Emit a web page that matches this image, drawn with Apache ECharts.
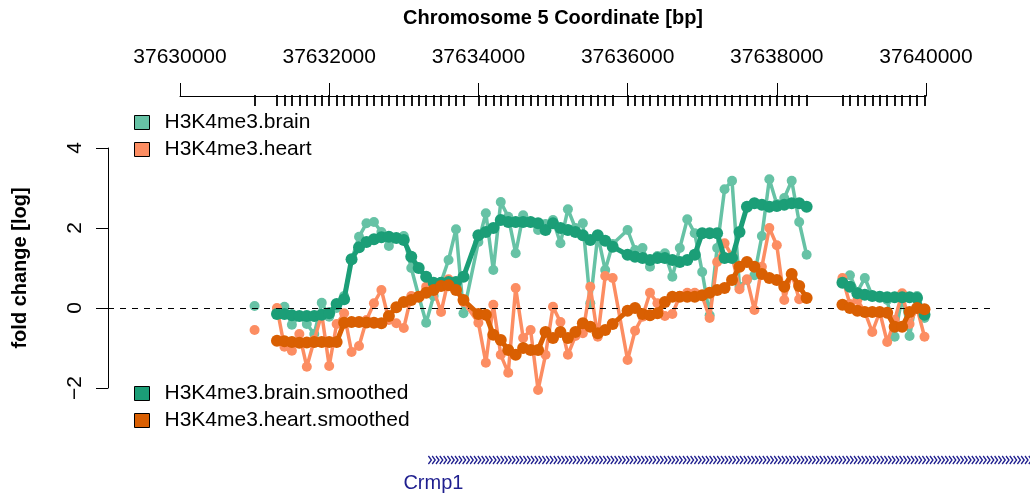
<!DOCTYPE html>
<html>
<head>
<meta charset="utf-8">
<script src="https://cdn.jsdelivr.net/npm/echarts@6/dist/echarts.min.js"></script>
<style>
  html, body { margin: 0; padding: 0; background: #fff; }
  #chart { width: 1030px; height: 494px; }
</style>
</head>
<body>
<div id="chart"></div>
<script>
// probe coordinates (bp)
var isoPos = 37631000;
var seg1Pos = [
  37631300,37631400,37631500,37631600,37631700,37631800,37631900,37632000,37632100,37632200,
  37632300,37632400,37632500,37632600,37632700,37632800,37632900,37633000,37633100,37633200,
  37633300,37633400,37633500,37633600,37633700,37633800,
  37634000,37634100,37634200,37634300,37634400,37634500,37634600,37634700,37634800,37634900,
  37635000,37635100,37635200,37635300,37635400,37635500,37635600,37635700,37635800,
  37636000,37636100,37636200,37636300,37636400,37636500,37636600,37636700,37636800,37636900,
  37637000,37637100,37637200,37637300,37637400,37637500,37637600,37637700,37637800,37637900,
  37638000,37638100,37638200,37638300,37638400
];
var seg2Pos = [37638880,37638980,37639080,37639180,37639280,37639380,37639480,37639580,37639680,37639780,37639880,37639980];

// fold change values
var brainIso = 0.05, heartIso = -0.55;
var brainRaw1 = [
  -0.1,0.03,-0.42,-0.2,-0.4,-0.65,0.13,-0.22,0.0,0.3,
  1.2,1.78,2.12,2.15,1.9,1.55,1.75,1.8,1.0,0.3,
  -0.37,0.3,0.65,1.2,1.97,-0.13,
  1.65,2.37,0.95,2.65,2.28,1.37,2.32,2.15,1.95,2.1,
  2.2,1.62,2.47,2.0,2.12,0.12,1.82,0.95,1.6,
  1.95,1.45,1.5,1.03,1.3,1.37,0.78,1.5,2.22,1.87,
  0.9,-0.18,1.5,2.97,3.18,0.53,0.7,0.82,1.8,3.22,
  2.6,2.75,3.18,2.15,1.33
];
var brainRaw2 = [0.7,0.82,0.4,0.75,0.3,0.28,0.2,-0.72,0.27,-0.7,0.3,-0.25];
var heartRaw1 = [
  0.0,-0.97,-1.07,-0.65,-1.47,-0.8,-0.15,-1.45,-0.4,-0.13,
  -1.1,-0.95,-0.3,0.12,0.45,-0.3,-0.38,-0.5,0.3,0.3,
  0.53,0.45,-0.1,0.72,0.45,0.15,
  -0.37,-1.37,0.08,-1.17,-1.62,0.5,-0.75,-0.55,-2.05,-1.17,
  0.03,-0.35,-1.17,-0.7,-0.63,0.53,-0.72,0.8,0.75,
  -1.3,-0.57,-0.22,0.38,0.12,-0.2,-0.15,0.3,0.38,0.38,
  0.3,-0.25,1.15,1.62,1.3,0.47,0.72,-0.05,1.03,2.0,
  1.57,0.2,0.87,0.22,0.25
];
var heartRaw2 = [0.75,0.1,0.2,-0.1,-0.6,-0.1,-0.85,-0.3,0.37,-0.4,0.0,-0.72];
var brainSm1 = [
  -0.15,-0.15,-0.18,-0.2,-0.2,-0.2,-0.17,-0.13,0.1,0.22,
  1.22,1.52,1.65,1.72,1.77,1.78,1.75,1.7,1.28,1.0,
  0.78,0.63,0.63,0.65,0.65,0.78,
  1.82,1.9,2.0,2.2,2.15,2.15,2.15,2.15,2.12,1.95,
  2.12,2.0,1.95,1.9,1.82,1.7,1.82,1.68,1.53,
  1.33,1.28,1.25,1.2,1.25,1.25,1.2,1.15,1.2,1.33,
  1.87,1.87,1.87,1.25,1.25,1.9,2.53,2.62,2.58,2.53,
  2.55,2.58,2.62,2.62,2.53
];
var brainSm2 = [0.63,0.53,0.37,0.33,0.3,0.28,0.27,0.27,0.27,0.27,0.25,-0.17];
var heartSm1 = [
  -0.82,-0.83,-0.85,-0.87,-0.86,-0.85,-0.85,-0.85,-0.85,-0.37,
  -0.35,-0.35,-0.36,-0.37,-0.38,-0.2,0.02,0.15,0.2,0.28,
  0.38,0.45,0.55,0.57,0.45,0.2,
  -0.15,-0.17,-0.67,-0.8,-1.05,-1.17,-1.0,-1.05,-1.05,-0.6,
  -0.75,-0.6,-0.75,-0.6,-0.38,-0.47,-0.63,-0.55,-0.4,
  -0.07,0.0,-0.15,-0.18,-0.13,0.15,0.28,0.28,0.28,0.28,
  0.32,0.38,0.45,0.5,0.7,1.03,1.15,1.03,0.85,0.75,
  0.7,0.53,0.85,0.55,0.25
];
var heartSm2 = [0.08,0.0,-0.07,-0.1,-0.1,-0.1,-0.12,-0.47,-0.47,-0.1,0.0,-0.03];

// gene annotation
var geneName = 'Crmp1';
var geneStart = 37633330, geneEnd = 37641500;

var xMin = 37629035, xMax = 37640925;

function pairs(pos, vals) {
  return pos.map(function (p, i) { return [p, vals[i]]; });
}
function track(iso, v1, v2) {
  var out = [];
  if (iso !== null) { out.push([isoPos, iso]); out.push([37631150, '-']); }
  out = out.concat(pairs(seg1Pos, v1));
  out.push([37638640, '-']);
  return out.concat(pairs(seg2Pos, v2));
}
var allPos = [isoPos].concat(seg1Pos, seg2Pos);

var font = 'Liberation Sans';
var chart = echarts.init(document.getElementById('chart'));

function lineSeries(name, data, color, lw, size, z) {
  return {
    name: name, type: 'line', xAxisIndex: 2, yAxisIndex: 1,
    data: data, connectNulls: false, clip: false,
    symbol: 'circle', symbolSize: size, showAllSymbol: true,
    itemStyle: { color: color },
    lineStyle: { color: color, width: lw },
    emphasis: { disabled: true }, z: z
  };
}

chart.setOption({
  animation: false,
  textStyle: { fontFamily: font },
  grid: [
    { left: 180, right: 104, top: 95, height: 1 },
    { left: 108, right: 35, top: 148, bottom: 106 },
    { left: 108, right: 35, top: 445, height: 30 }
  ],
  xAxis: [
    {
      gridIndex: 0, type: 'value', position: 'top', min: 37630000, max: 37640000, interval: 2000,
      name: 'Chromosome 5 Coordinate [bp]', nameLocation: 'middle', nameGap: 67,
      nameTextStyle: { fontWeight: 'bold', fontSize: 20, color: '#000', fontFamily: font },
      axisLine: { lineStyle: { color: '#000', width: 1 } },
      axisTick: { length: 13, lineStyle: { color: '#000', width: 1 } },
      axisLabel: { fontSize: 21, color: '#000', margin: 27, formatter: function (v) { return String(v); } },
      splitLine: { show: false }
    },
    {
      gridIndex: 0, type: 'value', position: 'top', min: 37630000, max: 37640000,
      axisLine: { show: false }, axisLabel: { show: false }, splitLine: { show: false },
      axisTick: { show: true, inside: true, length: 11, customValues: allPos, lineStyle: { color: '#000', width: 1.8 } }
    },
    { gridIndex: 1, type: 'value', min: xMin, max: xMax, show: false },
    { gridIndex: 2, type: 'value', min: xMin, max: xMax, show: false }
  ],
  yAxis: [
    { gridIndex: 0, show: false },
    {
      gridIndex: 1, type: 'value', min: -2, max: 4, interval: 2,
      name: 'fold change [log]', nameLocation: 'middle', nameGap: 78,
      nameTextStyle: { fontWeight: 'bold', fontSize: 20, color: '#000', fontFamily: font },
      axisLine: { show: true, lineStyle: { color: '#000', width: 1 } },
      axisTick: { show: true, length: 12, lineStyle: { color: '#000' } },
      axisLabel: { rotate: 90, fontSize: 21, color: '#000', margin: 22,
        formatter: function (v) { return String(v).replace('-', '\u2212'); } },
      splitLine: { show: false }
    },
    { gridIndex: 2, type: 'value', min: 0, max: 1, show: false }
  ],
  legend: [
    {
      data: ['H3K4me3.brain', 'H3K4me3.heart'], orient: 'vertical', left: 129, top: 107,
      icon: 'rect', itemWidth: 15, itemHeight: 14, itemGap: 6, selectedMode: false,
      itemStyle: { borderColor: '#000', borderWidth: 1 },
      textStyle: { fontSize: 21, color: '#000', padding: [0, 0, 0, 10] }
    },
    {
      data: ['H3K4me3.brain.smoothed', 'H3K4me3.heart.smoothed'], orient: 'vertical', left: 129, top: 378,
      icon: 'rect', itemWidth: 15, itemHeight: 14, itemGap: 6, selectedMode: false,
      itemStyle: { borderColor: '#000', borderWidth: 1 },
      textStyle: { fontSize: 21, color: '#000', padding: [0, 0, 0, 10] }
    }
  ],
  series: [
    {
      type: 'line', xAxisIndex: 2, yAxisIndex: 1, data: [], z: 1,
      markLine: {
        silent: true, symbol: 'none', label: { show: false },
        lineStyle: { color: '#000', type: [6, 6], width: 1 },
        data: [{ yAxis: 0 }]
      }
    },
    lineSeries('H3K4me3.brain', track(brainIso, brainRaw1, brainRaw2), '#66C2A5', 3.5, 10, 2),
    lineSeries('H3K4me3.heart', track(heartIso, heartRaw1, heartRaw2), '#FC8D62', 3.5, 10, 3),
    lineSeries('H3K4me3.brain.smoothed', track(null, brainSm1, brainSm2), '#1B9E77', 5, 12, 4),
    lineSeries('H3K4me3.heart.smoothed', track(null, heartSm1, heartSm2), '#D95F02', 5, 12, 5),
    {
      type: 'custom', xAxisIndex: 3, yAxisIndex: 2, clip: false, silent: true,
      data: [[geneStart, geneEnd]],
      renderItem: function (params, api) {
        var s = api.coord([api.value(0), 0.5]);
        var e = api.coord([api.value(1), 0.5]);
        var y = s[1];
        var kids = [];
        for (var x = s[0]; x < e[0]; x += 3.8) {
          kids.push({ type: 'polyline', shape: { points: [[x, y - 4], [x + 3, y], [x, y + 4]] },
            style: { stroke: '#1f1f8f', lineWidth: 1.3, fill: null } });
        }
        kids.push({ type: 'text', style: { text: geneName, x: s[0] + 5, y: y + 23, align: 'center',
          verticalAlign: 'middle', fontSize: 20, fontFamily: font, fill: '#1f1f8f' } });
        return { type: 'group', children: kids };
      }
    }
  ]
});
</script>
</body>
</html>
